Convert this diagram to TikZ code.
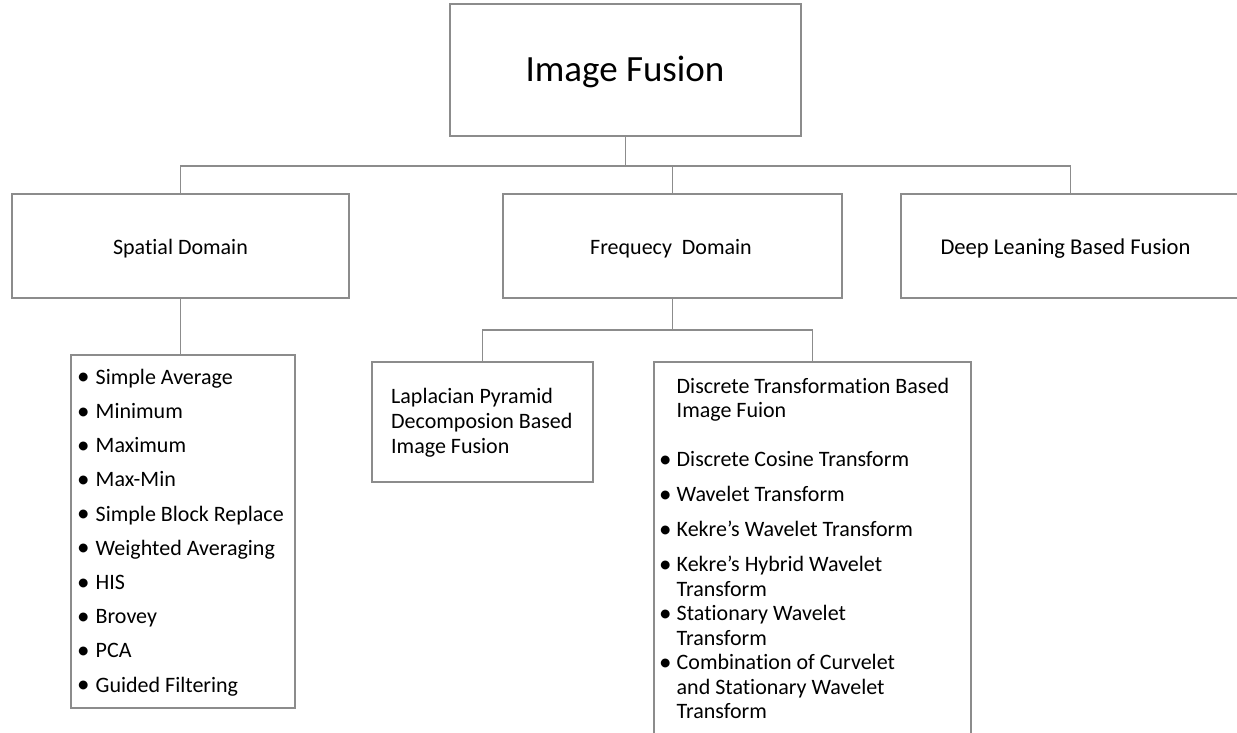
\documentclass[tikz,border=0pt]{standalone}
\usepackage{fontspec}
\setmainfont{Carlito}[Ligatures={NoCommon}]
\definecolor{linegray}{RGB}{140,140,140}
\newcommand{\bu}[1]{\makebox[#1][l]{\raisebox{-0.6pt}{\fontsize{25}{25}\selectfont •}}}
\newcommand{\topstrut}{\rule{0pt}{20pt}}
\begin{document}
\begin{tikzpicture}[x=1pt,y=-1pt,
  box/.style={draw=linegray, line width=1.6pt, inner sep=0pt, rectangle},
  lbl/.style={inner sep=0pt, anchor=base, font=\fontsize{22}{26}\selectfont},
  listtext/.style={inner sep=0pt, anchor=north west, align=left},
  conn/.style={draw=linegray, line width=1.6pt}]
\useasboundingbox (0,0) rectangle (1237,733);

% boxes
\node[box, minimum width=351pt, minimum height=132pt] (root) at (625.5,70) {};
\node[box, minimum width=337pt, minimum height=104pt] (spatial) at (180.5,246) {};
\node[box, minimum width=339pt, minimum height=104pt] (freq) at (672.5,246) {};
\node[box, minimum width=339pt, minimum height=104pt] (deep) at (1070.5,246) {};
\node[box, minimum width=224pt, minimum height=353pt] (list) at (183,531.5) {};
\node[box, minimum width=221pt, minimum height=120pt] (lap) at (482.5,422) {};
\node[box, minimum width=317pt, minimum height=383pt] (disc) at (812.5,553.5) {};

% labels
\node[lbl, font=\fontsize{37}{44}\selectfont] (troot) at (625,82) {Image Fusion};
\node[lbl] (tspatial) at (180.5,254) {Spatial Domain};
\node[lbl] (tfreq) at (671,254) {Frequecy\ \ Domain};
\node[lbl, font=\fontsize{22.6}{26}\selectfont] (tdeep) at (1065.5,254) {Deep Leaning Based Fusion};

\node[listtext, font=\fontsize{22}{34.2}\selectfont] (tlist) at (77,364) {%
\topstrut\bu{18.5pt}Simple Average\\
\bu{18.5pt}Minimum\\
\bu{18.5pt}Maximum\\
\bu{18.5pt}Max-Min\\
\bu{18.5pt}Simple Block Replace\\
\bu{18.5pt}Weighted Averaging\\
\bu{18.5pt}HIS\\
\bu{18.5pt}Brovey\\
\bu{18.5pt}PCA\\
\bu{18.5pt}Guided Filtering};

\node[listtext, font=\fontsize{22}{25}\selectfont] (tlap) at (391,383) {%
\topstrut Laplacian Pyramid\\
Decomposion Based\\
Image Fusion};

\node[listtext, font=\fontsize{22}{24.5}\selectfont] (tdisc) at (659,373) {%
\topstrut\hspace*{17.5pt}Discrete Transformation Based\\
\hspace*{17.5pt}Image Fuion\\[24.5pt]
\bu{17.5pt}Discrete Cosine Transform\\[10.5pt]
\bu{17.5pt}Wavelet Transform\\[10.5pt]
\bu{17.5pt}Kekre’s Wavelet Transform\\[10.5pt]
\bu{17.5pt}Kekre’s Hybrid Wavelet\\
\hspace*{17.5pt}Transform\\
\bu{17.5pt}Stationary Wavelet\\
\hspace*{17.5pt}Transform\\
\bu{17.5pt}Combination of Curvelet\\
\hspace*{17.5pt}and Stationary Wavelet\\
\hspace*{17.5pt}Transform};

% connectors
\coordinate (bus) at (625.5,166);
\coordinate (fbus) at (672.5,330);
\coordinate (dtop) at (812.5,362);
\draw[conn] (root.south) -- (bus);
\draw[conn] (spatial.north) |- (bus) -| (deep.north);
\draw[conn] (freq.north) -- (freq.north |- bus);
\draw[conn] (spatial.south) -- (spatial.south |- list.north);
\draw[conn] (freq.south) -- (fbus);
\draw[conn] (lap.north) |- (fbus) -| (dtop);
\end{tikzpicture}
\end{document}
